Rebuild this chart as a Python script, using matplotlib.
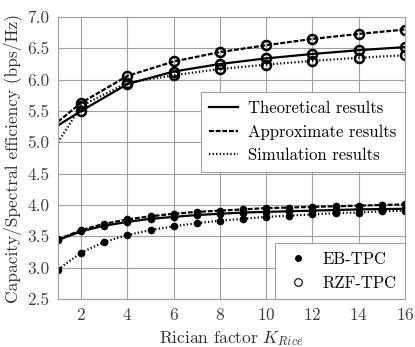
import numpy as np
import matplotlib
matplotlib.use('Agg')
import matplotlib.pyplot as plt
from matplotlib.lines import Line2D

plt.rcParams['font.family'] = 'serif'
plt.rcParams['font.serif'] = ['cmr10']
plt.rcParams['mathtext.fontset'] = 'cm'
plt.rcParams['axes.formatter.use_mathtext'] = True

# Rician factor
k_all = np.arange(1, 17)
k_even = np.array([1, 2, 4, 6, 8, 10, 12, 14, 16])

# RZF-TPC (upper curves), values at k_even
rzf_theory = [5.27, 5.50, 5.93, 6.13, 6.25, 6.34, 6.41, 6.47, 6.52]
rzf_approx = [5.33, 5.63, 6.06, 6.29, 6.44, 6.55, 6.65, 6.73, 6.80]
rzf_sim = [5.00, 5.58, 5.95, 6.07, 6.17, 6.24, 6.30, 6.35, 6.39]

# EB-TPC (lower curves), values at k_all
eb_theory = [3.44, 3.58, 3.67, 3.73, 3.78, 3.81, 3.84, 3.86, 3.88, 3.89,
             3.90, 3.91, 3.92, 3.93, 3.935, 3.94]
eb_approx = [3.45, 3.60, 3.70, 3.77, 3.82, 3.86, 3.89, 3.91, 3.93, 3.95,
             3.96, 3.97, 3.98, 3.99, 4.00, 4.01]
eb_sim = [2.97, 3.24, 3.41, 3.52, 3.60, 3.66, 3.71, 3.75, 3.78, 3.81,
          3.83, 3.85, 3.87, 3.88, 3.90, 3.91]

fs = 12.5
lfs = 12
fig = plt.figure(figsize=(4.15, 3.47), dpi=100)
ax = fig.add_axes([58/415, 1 - 299/347, 347/415, 282/347])

styles = {'theory': '-', 'approx': (0, (2.2, 0.8)), 'sim': (0, (0.6, 1.0))}
lw = 1.6

for y, st in [(rzf_theory, styles['theory']), (rzf_approx, styles['approx']), (rzf_sim, styles['sim'])]:
    ax.plot(k_even, y, color='black', linestyle=st, linewidth=lw)
    ax.plot(k_even[1:], y[1:], linestyle='none', marker='o', markersize=6.5,
            markerfacecolor='none', markeredgecolor='black', markeredgewidth=1.8)

for y, st in [(eb_theory, styles['theory']), (eb_approx, styles['approx']), (eb_sim, styles['sim'])]:
    ax.plot(k_all, y, color='black', linestyle=st, linewidth=lw, marker='o',
            markersize=4.5, markerfacecolor='black', markeredgecolor='black')

ax.set_xlim(1, 16)
ax.set_ylim(2.5, 7.0)
ax.set_xticks([2, 4, 6, 8, 10, 12, 14, 16])
ax.set_yticks(np.arange(2.5, 7.01, 0.5))
ax.set_yticklabels(['%.1f' % v for v in np.arange(2.5, 7.01, 0.5)])
ax.grid(True, color='#a0a0a0', linewidth=0.8)
for s in ax.spines.values():
    s.set_color('#a0a0a0')
    s.set_linewidth(0.8)
ax.tick_params(labelsize=fs, length=0, pad=6, colors='#404040')
ax.set_xlabel('Rician factor $K_{Rice}$', fontsize=fs, color='#303030', labelpad=4)
ax.set_ylabel('Capacity/Spectral efficiency (bps/Hz)', fontsize=fs, color='#303030')

h1 = [Line2D([], [], color='black', linestyle=styles['theory'], linewidth=lw),
      Line2D([], [], color='black', linestyle=styles['approx'], linewidth=lw),
      Line2D([], [], color='black', linestyle=styles['sim'], linewidth=lw)]
leg1 = ax.legend(h1, ['Theoretical results', 'Approximate results', 'Simulation results'],
                 loc='upper right', bbox_to_anchor=(1.0, 0.733), fontsize=lfs,
                 fancybox=False, edgecolor='#a0a0a0', framealpha=1,
                 handlelength=1.75, handletextpad=0.6, labelspacing=0.5,
                 borderpad=0.5, borderaxespad=0)
leg1.get_frame().set_linewidth(0.8)
ax.add_artist(leg1)

h2 = [Line2D([], [], linestyle='none', marker='o', markersize=4, color='black'),
      Line2D([], [], linestyle='none', marker='o', markersize=5.5,
             markerfacecolor='none', markeredgecolor='black', markeredgewidth=0.8)]
leg2 = ax.legend(h2, ['EB-TPC', 'RZF-TPC'], loc='lower right', fontsize=lfs,
                 fancybox=False, edgecolor='#a0a0a0', framealpha=1,
                 handlelength=1.75, handletextpad=0.6, labelspacing=0.5,
                 borderpad=0.5, borderaxespad=0)
leg2.get_frame().set_linewidth(0.8)

fig.savefig('out.png', dpi=100)
